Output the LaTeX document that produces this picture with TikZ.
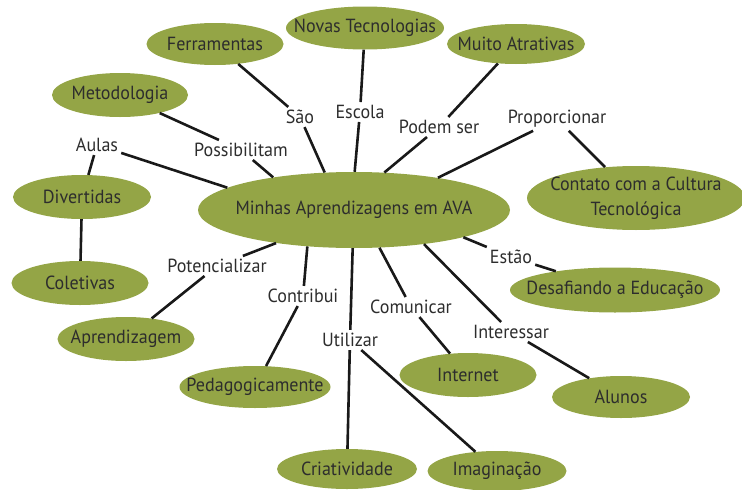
\documentclass[tikz,border=0pt]{standalone}
\usepackage{fontspec}
\setmainfont{PT Sans}[FakeStretch=0.95]
\usetikzlibrary{shapes.geometric}
\definecolor{olive}{RGB}{148,165,70}
\definecolor{ink}{RGB}{45,45,45}
\tikzset{
  txt/.style={text=ink, inner sep=0pt, font=\fontsize{19}{22}\selectfont, align=center},
  conc/.style={ellipse, fill=olive, inner sep=0pt},
  lab/.style={text=ink, inner sep=3pt, font=\fontsize{19}{22}\selectfont},
  link/.style={line width=2.6pt, draw=black!90}
}
\begin{document}
\begin{tikzpicture}[x=1pt,y=-1pt]
\useasboundingbox (0,0) rectangle (742,490);
% concepts
\node[conc, minimum width=312, minimum height=76, label={[txt]center:Minhas Aprendizagens em AVA}] (c) at (354,210) {};
\node[conc, minimum width=137, minimum height=42, label={[txt]center:Ferramentas}] (fer) at (215,44) {};
\node[conc, minimum width=158, minimum height=43, label={[txt]center:Novas Tecnologias}] (nov) at (365,28) {};
\node[conc, minimum width=138, minimum height=40, label={[txt]center:Muito Atrativas}] (mui) at (516,44) {};
\node[conc, minimum width=136, minimum height=44, label={[txt]center:Metodologia}] (met) at (120,95) {};
\node[conc, minimum width=138, minimum height=44, label={[txt]center:Divertidas}] (div) at (82,197) {};
\node[conc, minimum width=137, minimum height=44, label={[txt]center:Coletivas}] (col) at (80,283) {};
\node[conc, minimum width=137, minimum height=44, label={[txt]center:Aprendizagem}] (apr) at (126,339) {};
\node[conc, minimum width=151, minimum height=42, label={[txt]center:Pedagogicamente}] (ped) at (255,387) {};
\node[conc, minimum width=137, minimum height=44, label={[txt]center:Internet}] (int) at (468,375) {};
\node[conc, minimum width=138, minimum height=42, label={[txt]center:Alunos}] (alu) at (621,397) {};
\node[conc, minimum width=210, minimum height=45, label={[txt]center:Desafiando a Educação}] (des) at (615,290) {};
\node[conc, minimum width=218, minimum height=64, label={[txt, font=\fontsize{19}{25}\selectfont]center:{Contato com a Cultura\\Tecnológica}}] (con) at (636,198) {};
\node[conc, minimum width=140, minimum height=40, label={[txt]center:Criatividade}] (cri) at (347,469) {};
\node[conc, minimum width=139, minimum height=40, label={[txt]center:Imaginação}] (ima) at (497,471) {};
% labels
\node[lab] (sao) at (300,117) {São};
\node[lab] (esc) at (360,112) {Escola};
\node[lab] (pod) at (439,127) {Podem ser};
\node[lab] (pro) at (557,119) {Proporcionar};
\node[lab] (pos) at (241,150) {Possibilitam};
\node[lab] (aul) at (97,145) {Aulas};
\node[lab] (est) at (511,257) {Estão};
\node[lab] (pot) at (217,266) {Potencializar};
\node[lab] (ctb) at (303,296) {Contribui};
\node[lab] (com) at (411,307) {Comunicar};
\node[lab] (uti) at (350,340) {Utilizar};
\node[lab] (ite) at (511,332) {Interessar};
% links
\draw[link] (fer) -- (sao) -- (c.128);
\draw[link] (nov) -- (esc) -- (c.89);
\draw[link] (mui) -- (pod) -- (c.51);
\draw[link] (c.21) -- (pro) -- (con);
\draw[link] (met) -- (pos) -- (c.158);
\draw[link] (div) -- (aul) -- (c.170);
\draw[link] (div) -- (col);
\draw[link] (c.-14) -- (est) -- (des);
\draw[link] (c.203) -- (pot) -- (apr);
\draw[link] (c.218) -- (ctb) -- (ped);
\draw[link] (c.-56) -- (com) -- (int);
\draw[link] (c.-92) -- (uti) -- (cri);
\draw[link] (uti) -- (ima);
\draw[link] (c.-26) -- (ite) -- (alu);
\end{tikzpicture}
\end{document}
